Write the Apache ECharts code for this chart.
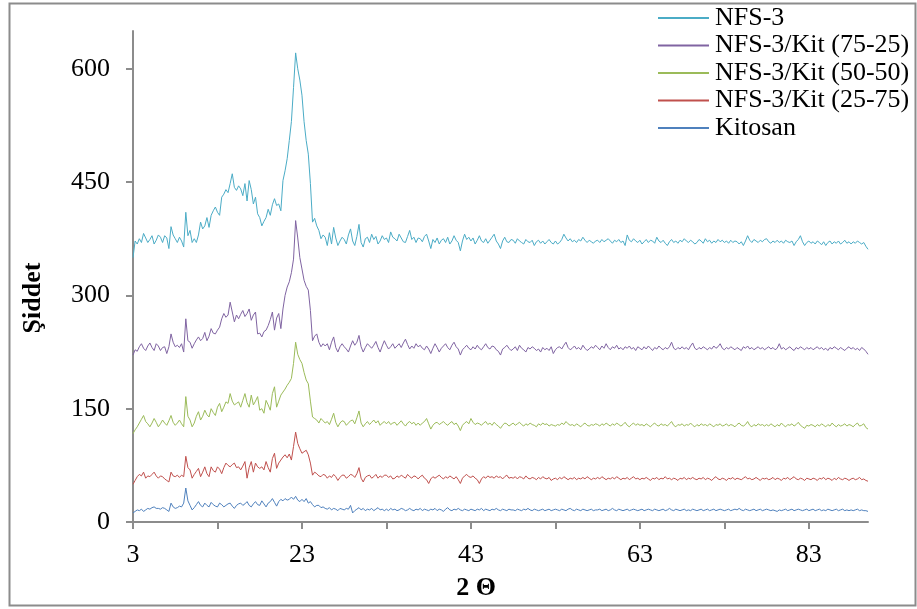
<!DOCTYPE html>
<html>
<head>
<meta charset="utf-8">
<script src="https://cdn.jsdelivr.net/npm/echarts@6/dist/echarts.min.js"></script>
<style>
html,body{margin:0;padding:0;background:#fff;}
#chart{width:917px;height:609px;}
</style>
</head>
<body>
<div id="chart"></div>
<script>
// 2θ sampling grid (degrees): 3.00, 3.25, ... 90.00
const twoThetaStart = 3;
const twoThetaStep = 0.25;

const seriesNames = ['NFS-3', 'NFS-3/Kit (75-25)', 'NFS-3/Kit (50-50)', 'NFS-3/Kit (25-75)', 'Kitosan'];

const nfs3 = [
350,372,368,375,370,382,376,370,374,379,368,373,380,377,370,379,376,362,391,380,
375,370,377,372,364,410,379,386,370,375,370,380,397,388,392,403,390,406,412,417,
410,406,430,434,440,436,448,461,443,439,445,441,432,448,425,452,440,421,430,408,
403,392,398,403,414,406,420,428,419,421,412,452,465,481,505,530,575,621,600,585,
565,530,505,487,448,397,402,392,386,375,380,377,366,383,368,390,376,366,372,377,
374,368,380,388,372,366,378,394,370,364,375,377,370,381,374,378,368,372,379,374,
376,370,384,377,375,372,381,376,371,370,378,386,374,377,370,376,375,371,378,381,
372,362,374,370,376,368,373,375,370,377,368,372,379,373,370,359,372,381,374,377,
372,376,368,373,379,372,370,375,369,373,377,381,372,368,362,372,377,371,370,374,
373,369,375,372,370,368,374,371,370,373,366,371,373,369,372,368,371,374,370,368,
372,368,370,374,381,376,372,375,371,373,370,374,372,377,373,370,373,371,369,372,
373,370,374,371,373,375,372,369,373,371,374,370,372,366,380,373,371,375,372,370,
373,368,371,374,370,373,372,369,377,372,370,373,369,366,371,374,370,372,369,373,
371,375,372,370,373,371,368,370,374,372,369,375,371,373,369,372,370,374,371,373,
370,372,369,373,370,372,371,368,371,366,372,379,373,370,374,372,370,373,371,374,
375,371,369,372,370,373,370,372,369,373,371,370,372,366,371,374,379,371,366,370,
372,369,371,368,372,370,367,371,366,370,372,368,371,369,372,368,370,373,369,371,
368,371,369,372,370,368,370,365,361
];

const kit7525 = [
221,228,226,232,236,230,227,233,237,231,227,236,233,227,231,232,223,232,249,238,
232,234,231,236,225,269,240,238,230,236,241,245,240,243,251,240,246,256,250,249,
254,258,269,276,271,274,291,278,265,274,269,275,280,272,276,282,267,274,278,249,
250,245,252,254,260,268,278,254,270,276,256,282,300,311,318,330,348,399,376,350,
335,320,312,307,280,240,246,249,238,232,236,233,236,228,238,245,231,225,232,236,
232,229,225,233,240,234,238,247,232,225,231,236,233,230,234,239,231,225,233,240,
234,229,232,236,230,233,236,231,237,242,235,229,233,230,236,232,234,230,228,233,
229,223,230,236,231,225,230,233,236,231,228,234,238,232,229,221,228,231,234,230,
228,232,229,234,230,228,232,236,231,229,233,232,228,226,221,229,231,234,230,227,
229,232,227,234,230,228,225,231,229,232,230,227,229,225,231,228,230,227,232,223,
228,231,232,229,234,238,231,228,230,233,229,231,228,234,230,227,229,232,230,234,
231,228,233,230,236,231,228,232,230,234,229,231,228,232,230,233,229,231,227,232,
230,228,232,229,233,230,227,231,229,233,230,228,231,229,232,238,230,228,231,229,
232,229,231,228,233,237,230,228,231,229,232,230,228,231,229,233,230,232,236,230,
228,231,229,232,230,228,231,229,227,232,230,233,229,231,228,230,232,229,231,228,
230,232,229,231,228,230,236,229,231,228,230,232,229,227,231,229,232,230,228,231,
229,231,228,230,232,229,231,228,230,227,231,229,232,230,228,231,229,227,230,232,
229,231,228,230,227,231,229,226,222
];

const kit5050 = [
117,122,126,131,136,141,133,130,126,131,137,132,126,130,135,131,128,134,141,132,
128,131,135,130,126,166,140,135,126,131,140,146,135,140,148,142,139,150,145,141,
152,157,146,152,159,157,170,160,155,157,159,152,161,170,158,152,168,155,160,166,
148,150,144,161,155,148,170,179,152,160,168,172,176,181,185,190,210,238,222,215,
210,198,188,183,160,139,137,135,131,137,134,131,133,129,136,144,132,126,131,134,
133,128,131,134,135,130,138,147,131,126,130,133,129,132,135,131,134,128,131,133,
130,133,129,131,132,128,131,134,130,127,131,133,130,132,128,131,128,131,133,137,
130,123,128,131,132,129,131,133,130,128,131,133,129,131,127,121,128,131,133,130,
137,132,129,131,130,128,131,133,129,131,128,132,129,127,124,128,131,130,127,129,
131,128,130,132,129,127,130,128,131,129,128,126,130,128,131,129,130,127,129,128,
127,129,128,131,129,133,130,128,129,127,130,128,126,129,131,128,127,129,128,130,
129,127,130,128,131,129,127,130,128,131,129,127,129,132,128,126,129,131,128,130,
128,129,127,130,128,126,129,131,128,127,130,128,129,127,130,133,128,126,129,128,
130,127,129,128,131,128,126,129,127,130,128,129,127,130,128,126,129,128,130,127,
128,130,127,129,128,126,129,131,128,127,129,133,128,126,129,127,130,128,129,127,
129,127,130,128,126,129,127,131,128,126,129,128,130,127,129,132,128,126,124,128,
127,129,128,126,129,127,130,128,126,129,127,131,128,126,129,127,128,130,127,129,
128,126,129,131,127,128,130,125,123
];

const kit2575 = [
50,55,60,63,61,66,58,61,60,63,66,61,58,61,60,57,55,53,66,61,
60,62,59,62,60,87,72,69,58,63,67,71,60,66,73,64,60,73,68,66,
73,70,64,72,78,75,73,76,78,72,73,69,74,80,58,72,80,66,78,73,
71,73,69,80,72,66,84,91,71,78,82,86,89,85,90,82,100,119,104,97,
91,93,95,89,78,62,66,64,61,60,63,62,58,61,59,63,60,55,59,62,
62,58,60,63,62,59,64,72,58,53,59,61,62,58,60,63,58,61,59,62,
62,59,61,57,58,61,59,62,60,58,63,60,58,61,60,57,60,62,58,56,
51,57,60,58,60,62,59,57,60,58,61,59,57,60,56,51,58,61,63,60,
59,61,58,56,51,57,60,58,61,59,60,58,61,59,60,57,60,62,58,59,
58,60,57,60,59,57,61,58,57,59,58,56,59,57,60,58,57,59,55,57,
58,56,59,57,60,58,56,58,57,59,56,58,57,59,57,60,58,56,58,57,
59,57,60,58,56,58,57,59,57,60,58,56,58,57,59,56,58,60,57,58,
56,58,57,59,57,55,58,57,59,56,58,57,60,57,58,56,58,57,55,58,
57,59,56,58,57,59,57,56,58,57,59,56,58,57,55,58,60,57,56,58,
57,55,58,57,59,56,58,57,56,58,60,57,58,56,57,59,57,55,58,57,
58,56,57,59,56,58,57,55,58,57,59,56,58,60,57,56,58,57,55,58,
57,56,58,57,55,58,57,59,56,58,57,55,58,56,59,57,56,58,57,55,
57,58,56,57,59,56,57,55,54
];

const kitosan = [
12,14,16,15,17,14,16,18,17,19,20,18,18,17,19,18,16,14,25,20,
18,19,21,20,25,45,28,22,16,19,23,27,22,20,25,22,20,26,23,21,
20,25,23,20,22,24,25,21,18,22,24,25,22,24,27,22,20,24,27,23,
22,28,24,20,25,27,31,26,21,27,30,28,31,29,30,33,30,34,29,27,
30,27,31,25,27,23,20,22,22,19,20,18,17,19,16,18,17,15,18,17,
16,18,17,22,12,15,17,19,16,18,15,17,16,18,15,17,19,16,17,15,
17,15,18,16,17,15,16,18,17,15,16,18,16,15,17,16,18,15,17,16,
15,17,16,18,15,17,16,14,17,19,16,15,17,16,18,16,15,17,16,15,
17,16,15,17,16,18,15,17,16,15,17,16,18,16,15,17,16,15,17,16,
16,15,17,16,15,17,16,18,16,15,17,16,15,16,17,15,16,17,15,16,
17,16,15,17,16,15,17,18,16,15,17,16,15,17,16,15,16,17,15,16,
16,17,15,16,17,15,16,18,16,15,17,16,15,16,17,15,16,17,16,15,
16,17,15,16,17,16,15,17,16,15,16,17,15,16,18,16,15,17,16,15,
16,17,15,16,15,17,16,15,16,17,15,16,17,15,16,17,15,16,17,16,
15,16,17,15,16,17,16,18,16,15,17,16,15,16,17,15,16,17,15,16,
17,16,15,16,15,14,16,15,16,17,15,16,17,15,16,17,16,15,16,17,
15,16,17,15,16,17,15,16,15,17,16,15,16,17,15,16,17,15,16,15,
16,15,16,17,15,16,15,15,14
];

const xTickValues = [3, 13, 23, 33, 43, 53, 63, 73, 83];
const xLabelValues = [3, 23, 43, 63, 83];
const yTickValues = [0, 150, 300, 450, 600];

const colors = ['#4BACC6', '#8064A2', '#9BBB59', '#C0504D', '#4F81BD'];
const allData = [nfs3, kit7525, kit5050, kit2575, kitosan];

const FONT = '"Liberation Serif", "Times New Roman", serif';

function toPairs(arr) {
  return arr.map((v, i) => [twoThetaStart + i * twoThetaStep, v]);
}

const chart = echarts.init(document.getElementById('chart'), null, {renderer: 'canvas'});

const axisGray = '#8c8c8c';

chart.setOption({
  animation: false,
  backgroundColor: '#ffffff',
  color: colors,
  grid: {left: 133, top: 31, right: 49, bottom: 87, containLabel: false},
  legend: {
    orient: 'vertical',
    left: 658,
    top: 5,
    itemWidth: 51,
    itemHeight: 2,
    itemGap: 1.5,
    icon: 'rect',
    data: seriesNames,
    textStyle: {fontFamily: FONT, fontSize: 26, color: '#000', lineHeight: 26, padding: [0, 0, 0, 1]},
    padding: 0
  },
  xAxis: {
    type: 'value',
    min: 3,
    max: 90,
    splitLine: {show: false},
    axisLine: {show: true, onZero: false, lineStyle: {color: axisGray, width: 2}},
    axisTick: {show: true, length: 7, customValues: xTickValues, lineStyle: {color: axisGray, width: 2}},
    axisLabel: {customValues: xLabelValues, fontFamily: FONT, fontSize: 26, color: '#000', margin: 20}
  },
  yAxis: {
    type: 'value',
    min: 0,
    max: 650,
    splitLine: {show: false},
    axisLine: {show: true, lineStyle: {color: axisGray, width: 2}},
    axisTick: {show: true, length: 7, customValues: yTickValues, lineStyle: {color: axisGray, width: 2}},
    axisLabel: {customValues: yTickValues, fontFamily: FONT, fontSize: 26, color: '#000', margin: 23}
  },
  graphic: [
    {type: 'rect', shape: {x: 9.5, y: 3.5, width: 906, height: 602}, style: {fill: 'none', stroke: '#8c8c8c', lineWidth: 2}, silent: true, z: -1},
    {type: 'text', x: 33, y: 298, rotation: Math.PI / 2,
     style: {text: 'Şiddet', font: 'bold 26px ' + FONT, fill: '#000', textAlign: 'center', textVerticalAlign: 'middle'}},
    {type: 'text', x: 476, y: 588,
     style: {text: '2 Θ', font: 'bold 26px ' + FONT, fill: '#000', textAlign: 'center', textVerticalAlign: 'middle'}}
  ],
  series: seriesNames.map((name, k) => ({
    name: name,
    type: 'line',
    data: toPairs(allData[k]),
    showSymbol: false,
    symbol: 'none',
    lineStyle: {width: 1, color: colors[k]},
    itemStyle: {color: colors[k]},
    z: 2
  }))
});
</script>
</body>
</html>
